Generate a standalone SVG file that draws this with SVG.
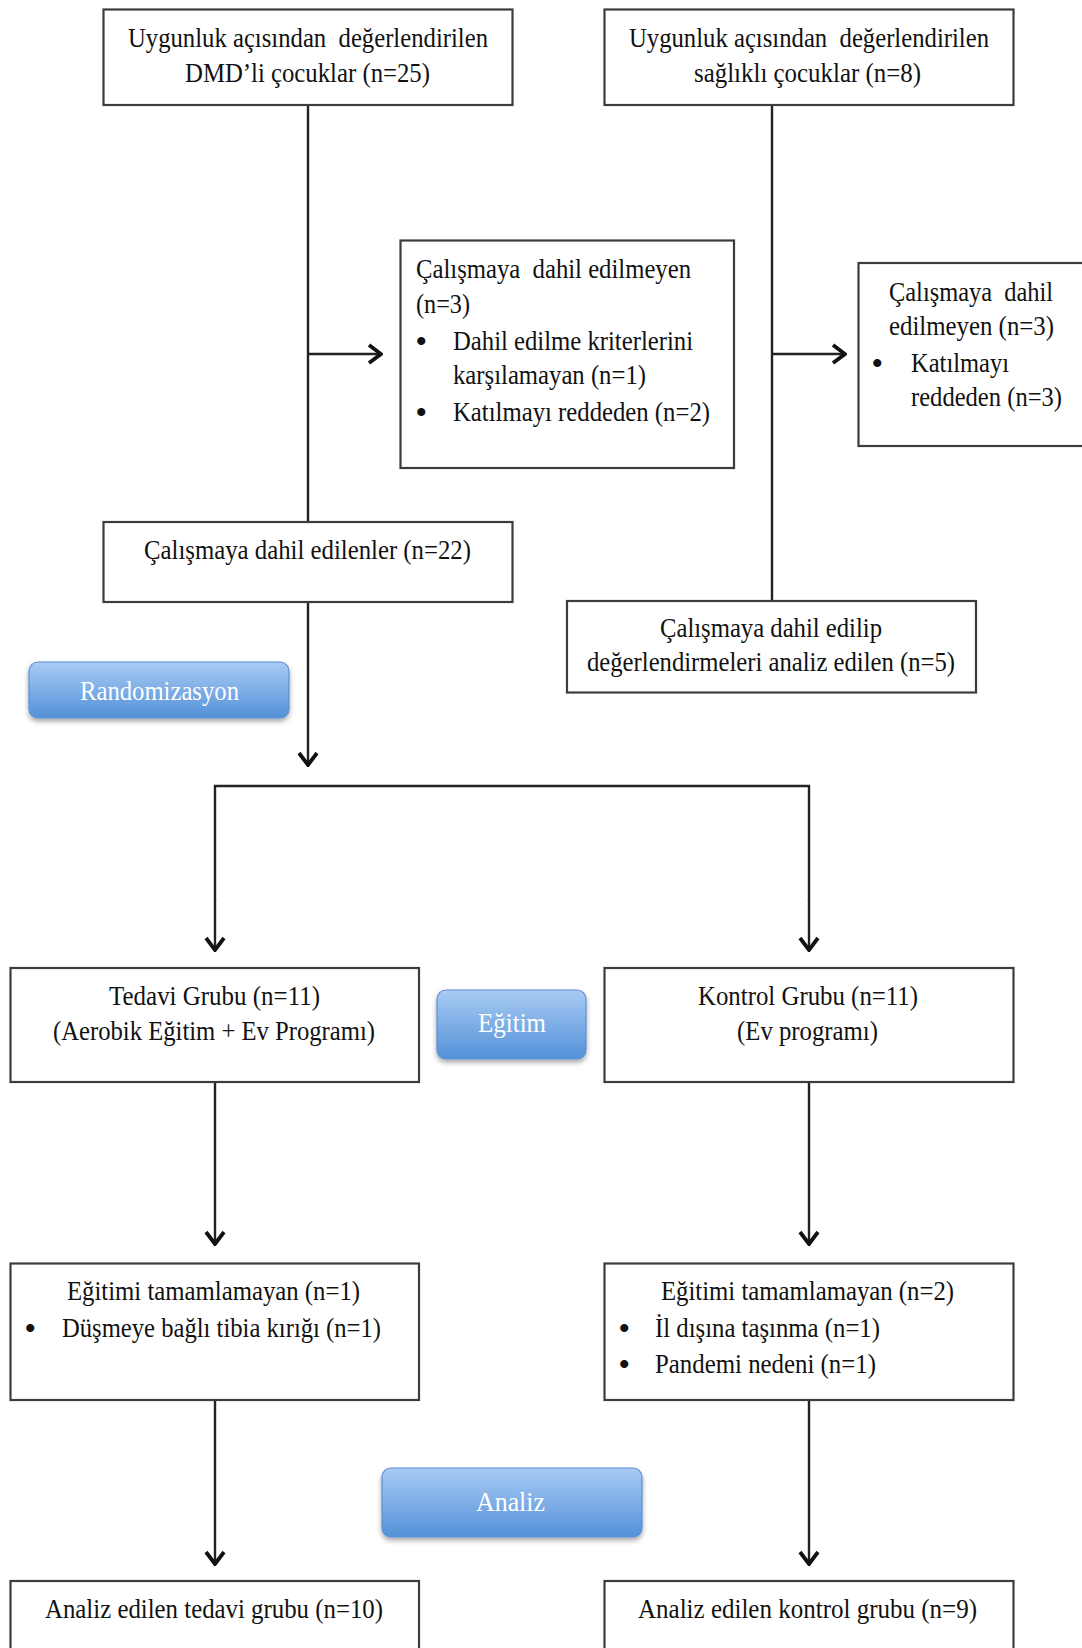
<svg xmlns="http://www.w3.org/2000/svg" width="1082" height="1648" viewBox="0 0 1082 1648">
<style>
  .box { fill: #ffffff; stroke: #3c3c3c; stroke-width: 2.2; }
  .t { font-family: "Liberation Serif", "Times New Roman", serif; font-size: 27.5px; fill: #111111; white-space: pre; }
  .b { font-family: "Liberation Serif", "Times New Roman", serif; font-size: 30px; font-weight: bold; fill: #111111; }
  .bt { font-family: "Liberation Serif", "Times New Roman", serif; font-size: 27px; fill: #ffffff; }
  .btn { fill: url(#blueGrad); stroke: #5b90d2; stroke-width: 1.2; filter: url(#shadow); }
  .conn { fill: none; stroke: #222222; stroke-width: 2.4; }
</style>
<defs>
  <linearGradient id="blueGrad" x1="0" y1="0" x2="0" y2="1">
    <stop offset="0" stop-color="#a9cbf4"/>
    <stop offset="1" stop-color="#5391d8"/>
  </linearGradient>
  <filter id="shadow" x="-10%" y="-20%" width="120%" height="150%">
    <feDropShadow dx="0" dy="3" stdDeviation="2.5" flood-color="#000" flood-opacity="0.35"/>
  </filter>
  <marker id="arr" markerUnits="userSpaceOnUse" viewBox="0 0 16 22" refX="14" refY="11" markerWidth="16" markerHeight="22" orient="auto">
    <path d="M2,2 L14,11 L2,20" fill="none" stroke="#111111" stroke-width="3.8" stroke-linejoin="miter"/>
  </marker>
</defs>

<g id="connectors">
  <line class="conn" x1="308" y1="105" x2="308" y2="522"/>
  <line class="conn" x1="308" y1="354" x2="381" y2="354" marker-end="url(#arr)"/>
  <line class="conn" x1="772" y1="105" x2="772" y2="601"/>
  <line class="conn" x1="772" y1="354" x2="845" y2="354" marker-end="url(#arr)"/>
  <line class="conn" x1="308" y1="602" x2="308" y2="765" marker-end="url(#arr)"/>
  <polyline class="conn" points="215,900 215,786 809,786 809,900"/>
  <line class="conn" x1="215" y1="899" x2="215" y2="950" marker-end="url(#arr)"/>
  <line class="conn" x1="809" y1="899" x2="809" y2="950" marker-end="url(#arr)"/>
  <line class="conn" x1="215" y1="1082" x2="215" y2="1244" marker-end="url(#arr)"/>
  <line class="conn" x1="809" y1="1082" x2="809" y2="1244" marker-end="url(#arr)"/>
  <line class="conn" x1="215" y1="1400" x2="215" y2="1564" marker-end="url(#arr)"/>
  <line class="conn" x1="809" y1="1400" x2="809" y2="1564" marker-end="url(#arr)"/>
</g>

<g id="dmd-eligible">
  <rect class="box" x="103.5" y="9.5" width="409" height="95.5"/>
  <text class="t" x="128" y="47" textLength="360" lengthAdjust="spacingAndGlyphs">Uygunluk açısından  değerlendirilen</text>
  <text class="t" x="185" y="82" textLength="245" lengthAdjust="spacingAndGlyphs">DMD’li çocuklar (n=25)</text>
</g>

<g id="healthy-eligible">
  <rect class="box" x="604.5" y="9.5" width="409" height="95.5"/>
  <text class="t" x="629" y="47" textLength="360" lengthAdjust="spacingAndGlyphs">Uygunluk açısından  değerlendirilen</text>
  <text class="t" x="694" y="82" textLength="227" lengthAdjust="spacingAndGlyphs">sağlıklı çocuklar (n=8)</text>
</g>

<g id="dmd-excluded">
  <rect class="box" x="400.5" y="240.5" width="333.5" height="227.5"/>
  <text class="t" x="416" y="278" textLength="275" lengthAdjust="spacingAndGlyphs">Çalışmaya  dahil edilmeyen</text>
  <text class="t" x="416" y="313" textLength="54" lengthAdjust="spacingAndGlyphs">(n=3)</text>
  <text class="b" x="416" y="351">•</text>
  <text class="t" x="453" y="350" textLength="240" lengthAdjust="spacingAndGlyphs">Dahil edilme kriterlerini</text>
  <text class="t" x="453" y="384" textLength="193" lengthAdjust="spacingAndGlyphs">karşılamayan (n=1)</text>
  <text class="b" x="416" y="422">•</text>
  <text class="t" x="453" y="421" textLength="257" lengthAdjust="spacingAndGlyphs">Katılmayı reddeden (n=2)</text>
</g>

<g id="healthy-excluded">
  <rect class="box" x="858.5" y="263" width="240" height="183"/>
  <text class="t" x="889" y="301" textLength="164" lengthAdjust="spacingAndGlyphs">Çalışmaya  dahil</text>
  <text class="t" x="889" y="335" textLength="165" lengthAdjust="spacingAndGlyphs">edilmeyen (n=3)</text>
  <text class="b" x="872" y="373">•</text>
  <text class="t" x="911" y="372" textLength="98" lengthAdjust="spacingAndGlyphs">Katılmayı</text>
  <text class="t" x="911" y="406" textLength="151" lengthAdjust="spacingAndGlyphs">reddeden (n=3)</text>
</g>

<g id="dmd-included">
  <rect class="box" x="103.5" y="522" width="409" height="80"/>
  <text class="t" x="144" y="559" textLength="327" lengthAdjust="spacingAndGlyphs">Çalışmaya dahil edilenler (n=22)</text>
</g>

<g id="healthy-analyzed">
  <rect class="box" x="567" y="601" width="409" height="91.5"/>
  <text class="t" x="660" y="637" textLength="222" lengthAdjust="spacingAndGlyphs">Çalışmaya dahil edilip</text>
  <text class="t" x="587" y="671" textLength="368" lengthAdjust="spacingAndGlyphs">değerlendirmeleri analiz edilen (n=5)</text>
</g>

<g id="randomizasyon">
  <rect class="btn" x="29" y="662" width="260" height="56" rx="9"/>
  <text class="bt" x="80" y="700" textLength="159" lengthAdjust="spacingAndGlyphs">Randomizasyon</text>
</g>

<g id="tedavi-grubu">
  <rect class="box" x="10.5" y="968" width="408.5" height="114"/>
  <text class="t" x="109" y="1005" textLength="211" lengthAdjust="spacingAndGlyphs">Tedavi Grubu (n=11)</text>
  <text class="t" x="53" y="1040" textLength="322" lengthAdjust="spacingAndGlyphs">(Aerobik Eğitim + Ev Programı)</text>
</g>

<g id="egitim">
  <rect class="btn" x="437" y="990" width="149" height="69" rx="9"/>
  <text class="bt" x="478" y="1032" textLength="68" lengthAdjust="spacingAndGlyphs">Eğitim</text>
</g>

<g id="kontrol-grubu">
  <rect class="box" x="604.5" y="968" width="409" height="114"/>
  <text class="t" x="698" y="1005" textLength="220" lengthAdjust="spacingAndGlyphs">Kontrol Grubu (n=11)</text>
  <text class="t" x="737" y="1040" textLength="141" lengthAdjust="spacingAndGlyphs">(Ev programı)</text>
</g>

<g id="tedavi-dropout">
  <rect class="box" x="10.5" y="1263.5" width="408.5" height="136.5"/>
  <text class="t" x="67" y="1300" textLength="293" lengthAdjust="spacingAndGlyphs">Eğitimi tamamlamayan (n=1)</text>
  <text class="b" x="25" y="1338">•</text>
  <text class="t" x="62" y="1337" textLength="319" lengthAdjust="spacingAndGlyphs">Düşmeye bağlı tibia kırığı (n=1)</text>
</g>

<g id="kontrol-dropout">
  <rect class="box" x="604.5" y="1263.5" width="409" height="136.5"/>
  <text class="t" x="661" y="1300" textLength="293" lengthAdjust="spacingAndGlyphs">Eğitimi tamamlamayan (n=2)</text>
  <text class="b" x="619" y="1338">•</text>
  <text class="t" x="655" y="1337" textLength="225" lengthAdjust="spacingAndGlyphs">İl dışına taşınma (n=1)</text>
  <text class="b" x="619" y="1374">•</text>
  <text class="t" x="655" y="1373" textLength="221" lengthAdjust="spacingAndGlyphs">Pandemi nedeni (n=1)</text>
</g>

<g id="analiz">
  <rect class="btn" x="382" y="1468" width="260" height="69" rx="9"/>
  <text class="bt" x="476" y="1511" textLength="69" lengthAdjust="spacingAndGlyphs">Analiz</text>
</g>

<g id="tedavi-analyzed">
  <rect class="box" x="10.5" y="1581" width="408.5" height="90"/>
  <text class="t" x="45" y="1618" textLength="338" lengthAdjust="spacingAndGlyphs">Analiz edilen tedavi grubu (n=10)</text>
</g>

<g id="kontrol-analyzed">
  <rect class="box" x="604.5" y="1581" width="409" height="90"/>
  <text class="t" x="638" y="1618" textLength="339" lengthAdjust="spacingAndGlyphs">Analiz edilen kontrol grubu (n=9)</text>
</g>
</svg>
